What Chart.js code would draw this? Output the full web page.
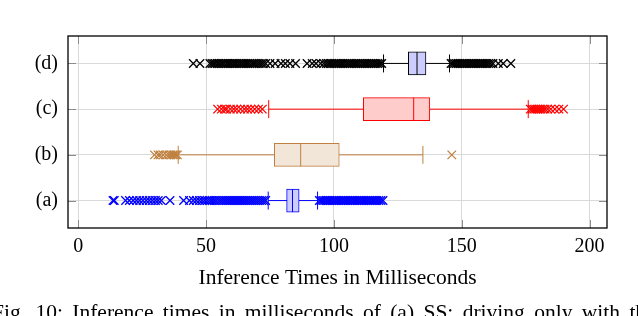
<!DOCTYPE html>
<html>
<head>
<meta charset="utf-8">
<script src="https://cdn.jsdelivr.net/npm/chart.js@4/dist/chart.umd.min.js"></script>
<style>
  html,body{margin:0;padding:0;background:#fff;}
  #wrap{position:relative;width:638px;height:316px;overflow:hidden;}
  #caption{position:absolute;left:-8px;top:300px;white-space:nowrap;font:21.5px "Liberation Serif",serif;word-spacing:4px;color:#000;}
</style>
</head>
<body>
<div id="wrap">
  <canvas id="chart" width="638" height="316"></canvas>
  <div id="caption">Fig. 10: Inference times in milliseconds of (a) SS; driving only with the</div>
</div>
<script>
(function () {
  'use strict';

  /* categories, bottom to top */
  var cats = ['(a)', '(b)', '(c)', '(d)'];
  var xTicks = [0, 50, 100, 150, 200];

  /* box stats (ms) */
  var whiskLo = [74.3, 39.1, 74.5, 119.4];
  var q1      = [81.5, 76.7, 111.5, 129.1];
  var med     = [83.8, 87.0, 131.2, 132.5];
  var q3      = [86.4, 102.1, 137.5, 136.0];
  var whiskHi = [93.6, 134.8, 176.0, 145.2];

  /* outliers (ms) */
  var outA = [13.6, 14.1, 18.5, 20.0, 21.5, 22.8, 24.0, 25.3, 26.6, 27.8, 29.0, 30.2, 31.3, 32.5, 35.9,
    41.2, 43.5, 45.0, 46.2, 47.4, 48.5, 49.5, 50.5, 51.4, 52.3, 53.2, 54.0, 54.9, 55.7, 56.5, 57.3, 58.1,
    58.9, 59.7, 60.5, 61.3, 62.1, 62.9, 63.7, 64.5, 65.3, 66.1, 66.9, 67.7, 68.5, 69.3, 70.1, 70.9, 71.7,
    72.5, 73.3,
    94.3, 95.0, 95.7, 96.4, 97.1, 97.8, 98.5, 99.2, 99.9, 100.6, 101.3, 102.0, 102.7, 103.4, 104.1, 104.8,
    105.5, 106.2, 106.9, 107.6, 108.3, 109.0, 109.7, 110.4, 111.1, 111.8, 112.5, 113.2, 113.9, 114.6,
    115.3, 116.0, 116.8, 117.6, 118.4, 119.2];
  var outB = [29.8, 31.2, 32.0, 33.2, 34.5, 35.5, 36.3, 37.0, 37.6, 38.2, 38.8, 146.1];
  var outC = [54.5, 56.0, 57.2, 58.0, 59.5, 60.8, 62.0, 63.5, 65.0, 66.2, 67.5, 69.0, 70.5, 72.0,
    176.8, 177.5, 178.2, 178.9, 179.6, 180.3, 181.0, 181.8, 182.6, 183.6, 184.8, 186.4, 188.0, 189.8];
  var outD = [45.0, 47.6,
    51.5, 52.3, 53.0, 53.6, 54.4, 55.0, 55.8, 56.5, 57.2, 58.0, 58.6, 59.3, 60.0, 60.7, 61.4, 62.0, 62.8,
    63.5, 64.2, 64.9, 65.6, 66.3, 67.0, 67.8, 68.5, 69.2, 70.0, 70.8, 71.6, 72.4, 73.3,
    75.0, 77.0, 79.3, 81.0, 82.8, 85.0,
    89.5, 91.5, 93.0, 94.8, 96.0, 97.0, 97.8, 98.5, 99.2, 100.0, 100.7, 101.4, 102.1, 102.8, 103.5, 104.2,
    105.0, 105.7, 106.4, 107.1, 107.9, 108.6, 109.3, 110.0, 110.8, 111.5, 112.2, 112.9, 113.6, 114.4,
    115.1, 115.8, 116.5, 117.2, 118.0, 118.7,
    145.8, 146.5, 147.2, 147.9, 148.6, 149.3, 150.0, 150.7, 151.4, 152.1, 152.8, 153.5, 154.2, 154.9,
    155.6, 156.3, 157.0, 157.7, 158.4, 159.1, 159.8, 160.5, 161.3, 162.2, 164.3, 166.2, 169.2];
  var outs = [outA, outB, outC, outD];

  var lineCol = ['#0000ff', '#bf8040', '#ff0000', '#000000'];
  var fillCol = ['#ccccff', '#f2e6d9', '#ffcccc', '#ccccff'];
  var FONT = '"Liberation Serif", "Times New Roman", serif';
  var TICK = 8;

  function pos(i) { return i + 1; }

  var datasets = [];
  cats.forEach(function (c, i) {
    datasets.push({
      type: 'scatter', order: 5,
      data: outs[i].map(function (v) { return { x: v, y: pos(i) }; }),
      pointStyle: 'crossRot', pointRadius: 6, borderColor: lineCol[i], borderWidth: 1.3,
      backgroundColor: lineCol[i]
    });
    datasets.push({
      type: 'line', order: 4,
      data: [{ x: whiskLo[i], y: pos(i) }, { x: whiskHi[i], y: pos(i) }],
      borderColor: lineCol[i], borderWidth: 1, pointRadius: 0, fill: false
    });
    datasets.push({
      type: 'scatter', order: 3,
      data: [{ x: whiskLo[i], y: pos(i) }, { x: whiskHi[i], y: pos(i) }],
      pointStyle: 'line', rotation: 90, pointRadius: 9, borderColor: lineCol[i], borderWidth: 1
    });
  });
  /* boxes */
  datasets.push({
    type: 'bar', indexAxis: 'y', order: 2,
    data: cats.map(function (c, i) { return { x: [q1[i], q3[i]], y: pos(i) }; }),
    backgroundColor: fillCol, borderColor: lineCol, borderWidth: 1,
    borderSkipped: false, barThickness: 23
  });
  /* medians */
  datasets.push({
    type: 'scatter', order: 1,
    data: cats.map(function (c, i) { return { x: med[i], y: pos(i) }; }),
    pointStyle: 'line', rotation: 90, pointRadius: 11.5, borderColor: lineCol, borderWidth: 1
  });

  /* pgfplots-like frame with inward ticks */
  var frame = {
    id: 'frame',
    afterDatasetsDraw: function (chart) {
      var a = chart.chartArea, ctx = chart.ctx, xs = chart.scales.x, ys = chart.scales.y;
      ctx.save();
      ctx.strokeStyle = '#8c8c8c'; ctx.lineWidth = 1;
      ctx.beginPath();
      xs.ticks.forEach(function (t) {
        var p = Math.round(xs.getPixelForValue(t.value)) + 0.5;
        ctx.moveTo(p, a.top); ctx.lineTo(p, a.top + TICK);
        ctx.moveTo(p, a.bottom); ctx.lineTo(p, a.bottom - TICK);
      });
      ys.ticks.forEach(function (t) {
        var p = Math.round(ys.getPixelForValue(t.value)) + 0.5;
        ctx.moveTo(a.left, p); ctx.lineTo(a.left + TICK, p);
        ctx.moveTo(a.right, p); ctx.lineTo(a.right - TICK, p);
      });
      ctx.stroke();
      ctx.strokeStyle = '#000'; ctx.lineWidth = 1.3;
      ctx.strokeRect(a.left, a.top, a.right - a.left, a.bottom - a.top);
      ctx.restore();
    }
  };

  new Chart(document.getElementById('chart'), {
    type: 'scatter',
    data: { datasets: datasets },
    plugins: [frame],
    options: {
      responsive: false, animation: false,
      layout: { padding: { left: 0, right: 31, top: 36, bottom: 0 } },
      plugins: { legend: { display: false }, tooltip: { enabled: false } },
      scales: {
        x: {
          type: 'linear', min: -4, max: 206.8,
          afterBuildTicks: function (s) { s.ticks = xTicks.map(function (v) { return { value: v }; }); },
          afterFit: function (s) { s.height = 88; },
          grid: { color: '#d9d9d9', drawTicks: false },
          border: { display: false },
          ticks: { padding: 7, color: '#000', font: { family: FONT, size: 20 } },
          title: {
            display: true, text: 'Inference Times in Milliseconds', color: '#000',
            font: { family: FONT, size: 21.5 }, padding: { top: 0, bottom: 25 }
          }
        },
        y: {
          type: 'linear', min: 0.4, max: 4.6, offset: false,
          afterBuildTicks: function (s) { s.ticks = cats.map(function (c, i) { return { value: pos(i) }; }); },
          afterFit: function (s) { s.width = 68; },
          grid: { color: '#d9d9d9', drawTicks: false, offset: false },
          border: { display: false },
          ticks: {
            padding: 10, color: '#000', font: { family: FONT, size: 20 },
            callback: function (v) { return cats[v - 1]; }
          }
        }
      }
    }
  });
})();
</script>
</body>
</html>
